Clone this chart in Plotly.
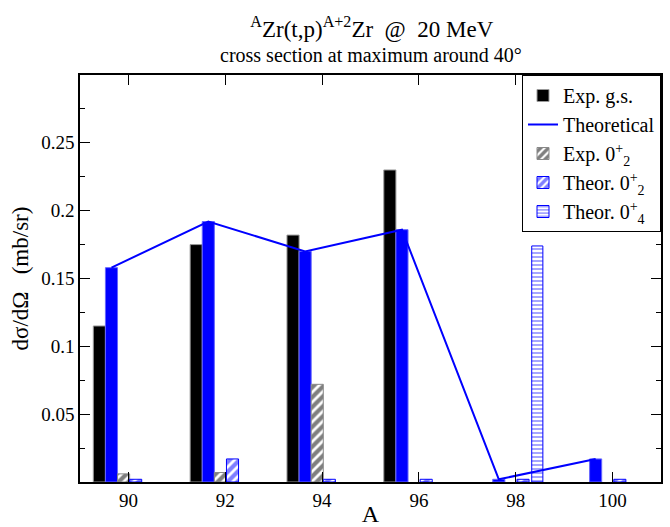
import plotly.graph_objects as go

A = [90, 92, 94, 96, 98, 100]
exp_gs = [0.115, 0.175, 0.182, 0.230, None, None]
theor = [0.158, 0.192, 0.170, 0.186, 0.002, 0.017]
exp_02 = [0.006, 0.007, 0.072, None, None, None]
theor_02 = [0.002, 0.017, 0.002, 0.002, 0.002, 0.002]
A_04 = [98]
theor_04 = [0.174]

FONT = "Liberation Serif, Times New Roman, DejaVu Serif, serif"
BLUE = "#0000ff"

fig = go.Figure()

fig.add_trace(go.Bar(x=A, y=exp_gs, width=0.25, offset=-0.725,
                     marker=dict(color="black", line=dict(color="#999999", width=1)),
                     name="Exp. g.s."))
fig.add_trace(go.Bar(x=A, y=theor, width=0.25, offset=-0.475,
                     marker=dict(color=BLUE, line=dict(color="#6666ff", width=1)),
                     name="Theoretical", showlegend=False, legendgroup="th"))
fig.add_trace(go.Scatter(x=[a - 0.35 for a in A], y=theor, mode="lines",
                         line=dict(color=BLUE, width=2),
                         name="Theoretical", legendgroup="th"))
fig.add_trace(go.Bar(x=A, y=exp_02, width=0.25, offset=-0.225,
                     marker=dict(color="white", line=dict(color="#888888", width=1),
                                 pattern=dict(shape="/", fgcolor="black", bgcolor="white",
                                              size=7, solidity=0.6)),
                     name="Exp. 0<sup>+</sup><sub>2</sub>"))
fig.add_trace(go.Bar(x=A, y=theor_02, width=0.25, offset=0.025,
                     marker=dict(color="white", line=dict(color=BLUE, width=1),
                                 pattern=dict(shape="/", fgcolor=BLUE, bgcolor="white",
                                              size=7, solidity=0.6)),
                     name="Theor. 0<sup>+</sup><sub>2</sub>"))
fig.add_trace(go.Bar(x=A_04, y=theor_04, width=0.23, offset=0.33,
                     marker=dict(color="white", line=dict(color=BLUE, width=1),
                                 pattern=dict(shape="-", fgcolor=BLUE, bgcolor="white",
                                              size=4, solidity=0.35)),
                     name="Theor. 0<sup>+</sup><sub>4</sub>"))

fig.update_layout(
    width=670, height=527,
    margin=dict(l=80, r=9, t=75, b=45),
    paper_bgcolor="white", plot_bgcolor="white",
    barmode="overlay",
    font=dict(family=FONT, size=18, color="black"),
    title=dict(text="<sup>A</sup>Zr(t,p)<sup>A+2</sup>Zr  @  20 MeV",
               x=0.555, xanchor="center", y=0.945, yanchor="middle",
               font=dict(family=FONT, size=23)),
    annotations=[dict(text="cross section at maximum around 40°", xref="paper", yref="paper",
                      x=0.5, y=1.0, yshift=20, xanchor="center", yanchor="middle",
                      showarrow=False, font=dict(family=FONT, size=20))],
    showlegend=True,
    legend=dict(x=1, y=1, xanchor="right", yanchor="top", bgcolor="white",
                bordercolor="black", borderwidth=1,
                font=dict(family=FONT, size=20), tracegroupgap=0,
                traceorder="normal"),
    xaxis=dict(range=[89, 101], tickvals=[90, 92, 94, 96, 98, 100],
               ticks="inside", ticklen=10, tickcolor="black", tickwidth=1,
               showline=True, linecolor="black", linewidth=1.5, mirror="ticks",
               showgrid=False, zeroline=False, automargin=False,
               title=dict(text="A", font=dict(family=FONT, size=24), standoff=0),
               tickfont=dict(family=FONT, size=19)),
    yaxis=dict(range=[0, 0.3], tickvals=[0.05, 0.1, 0.15, 0.2, 0.25],
               ticktext=["0.05", "0.1", "0.15", "0.2", "0.25"],
               ticks="inside", ticklen=10, tickcolor="black", tickwidth=1,
               minor=dict(ticks="inside", ticklen=5, dtick=0.025, tickcolor="black"),
               showline=True, linecolor="black", linewidth=1.5, mirror="ticks",
               showgrid=False, zeroline=False, automargin=False,
               title=dict(text="dσ/dΩ   (mb/sr)", font=dict(family=FONT, size=23), standoff=6),
               tickfont=dict(family=FONT, size=19)),
)

fig.write_html("out.html", config={"displayModeBar": False},
               post_script="document.body.style.margin='0';")
